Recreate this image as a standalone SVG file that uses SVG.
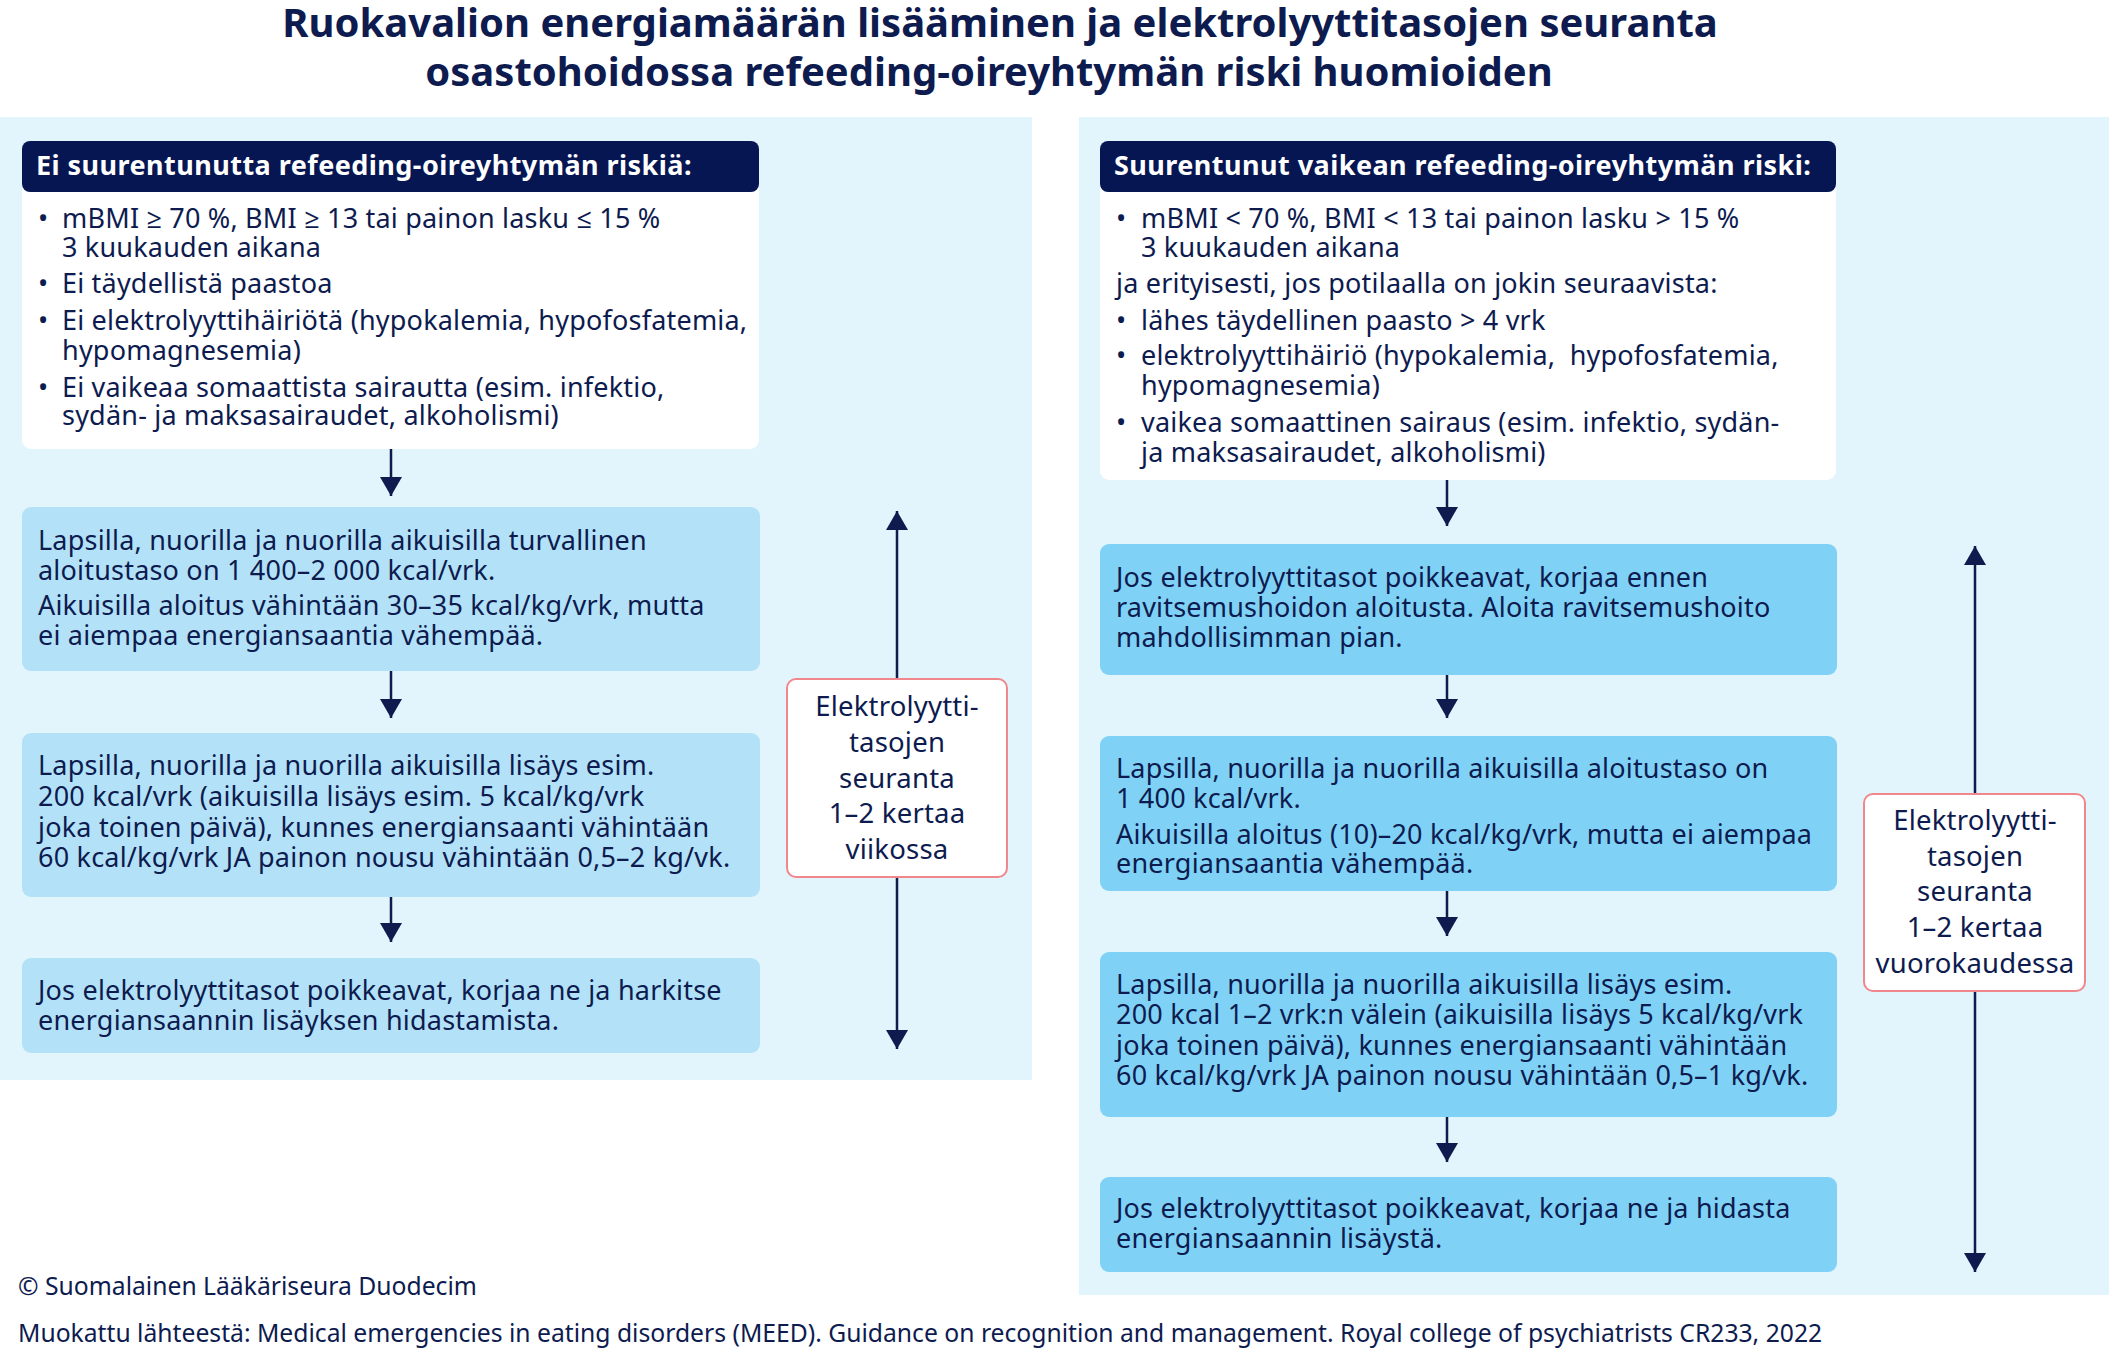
<svg xmlns="http://www.w3.org/2000/svg" width="2109" height="1351" viewBox="0 0 2109 1351">
<defs>
<style>
text{font-family:"Noto Sans","Open Sans","Liberation Sans",sans-serif;fill:#0d1b4f}
.title{font-size:40px;font-weight:bold;text-anchor:middle}
.hdr{font-size:27px;font-weight:bold;fill:#ffffff;letter-spacing:0.45px}
.body{font-size:27px;letter-spacing:0.2px}
.lbl{font-size:27.5px;text-anchor:middle;letter-spacing:0.2px}
.foot{font-size:24.7px}
.panel{fill:#e2f4fc}
.hdrbox{fill:#061652}
.white{fill:#ffffff}
.boxL{fill:#b3e2f8}
.boxR{fill:#7fd2f6}
.lblbox{fill:#ffffff;stroke:#f0878d;stroke-width:2}
.conn{stroke:#0d1b4f;stroke-width:2.5;fill:none}
</style>
<marker id="ah" viewBox="0 0 19 22" markerWidth="19" markerHeight="22" markerUnits="userSpaceOnUse" refX="19" refY="11" orient="auto-start-reverse">
<path d="M0,0 L19,11 L0,22 z" fill="#0d1b4f"/>
</marker>
</defs>
<rect width="2109" height="1351" fill="#ffffff"/>
<g id="title">
<text class="title" x="1000" y="37">Ruokavalion energiamäärän lisääminen ja elektrolyyttitasojen seuranta</text>
<text class="title" x="989" y="86">osastohoidossa refeeding-oireyhtymän riski huomioiden</text>
</g>
<g id="panels">
<rect class="panel" x="0" y="117" width="1032" height="963"/>
<rect class="panel" x="1079" y="117" width="1030" height="1178"/>
</g>
<g id="connectors">
<line class="conn" x1="391" y1="449" x2="391" y2="496" marker-end="url(#ah)"/>
<line class="conn" x1="391" y1="671" x2="391" y2="718" marker-end="url(#ah)"/>
<line class="conn" x1="391" y1="897" x2="391" y2="942" marker-end="url(#ah)"/>
<line class="conn" x1="897" y1="511" x2="897" y2="1049" marker-start="url(#ah)" marker-end="url(#ah)"/>
<line class="conn" x1="1447" y1="480" x2="1447" y2="526" marker-end="url(#ah)"/>
<line class="conn" x1="1447" y1="675" x2="1447" y2="718" marker-end="url(#ah)"/>
<line class="conn" x1="1447" y1="891" x2="1447" y2="936" marker-end="url(#ah)"/>
<line class="conn" x1="1447" y1="1117" x2="1447" y2="1162" marker-end="url(#ah)"/>
<line class="conn" x1="1975" y1="546" x2="1975" y2="1272" marker-start="url(#ah)" marker-end="url(#ah)"/>
</g>
<g id="left-criteria">
<rect class="white" x="22" y="141" width="737" height="308" rx="9"/>
<rect class="hdrbox" x="22" y="141" width="737" height="51" rx="8"/>
<text class="hdr" x="36" y="175">Ei suurentunutta refeeding-oireyhtymän riskiä:</text>
<text class="body" y="228"><tspan x="38">•</tspan><tspan x="62">mBMI ≥ 70 %, BMI ≥ 13 tai painon lasku ≤ 15 %</tspan></text>
<text class="body" x="62" y="257">3 kuukauden aikana</text>
<text class="body" y="293"><tspan x="38">•</tspan><tspan x="62">Ei täydellistä paastoa</tspan></text>
<text class="body" y="330"><tspan x="38">•</tspan><tspan x="62">Ei elektrolyyttihäiriötä (hypokalemia, hypofosfatemia,</tspan></text>
<text class="body" x="62" y="360">hypomagnesemia)</text>
<text class="body" y="397"><tspan x="38">•</tspan><tspan x="62">Ei vaikeaa somaattista sairautta (esim. infektio,</tspan></text>
<text class="body" x="62" y="425">sydän- ja maksasairaudet, alkoholismi)</text>
</g>
<g id="left-start">
<rect class="boxL" x="22" y="507" width="738" height="164" rx="9"/>
<text class="body" x="38" y="550">Lapsilla, nuorilla ja nuorilla aikuisilla turvallinen</text>
<text class="body" x="38" y="580">aloitustaso on 1 400–2 000 kcal/vrk.</text>
<text class="body" x="38" y="615">Aikuisilla aloitus vähintään 30–35 kcal/kg/vrk, mutta</text>
<text class="body" x="38" y="645">ei aiempaa energiansaantia vähempää.</text>
</g>
<g id="left-increase">
<rect class="boxL" x="22" y="733" width="738" height="164" rx="9"/>
<text class="body" x="38" y="775">Lapsilla, nuorilla ja nuorilla aikuisilla lisäys esim.</text>
<text class="body" x="38" y="806">200 kcal/vrk (aikuisilla lisäys esim. 5 kcal/kg/vrk</text>
<text class="body" x="38" y="837">joka toinen päivä), kunnes energiansaanti vähintään</text>
<text class="body" x="38" y="867">60 kcal/kg/vrk JA painon nousu vähintään 0,5–2 kg/vk.</text>
</g>
<g id="left-correct">
<rect class="boxL" x="22" y="958" width="738" height="95" rx="9"/>
<text class="body" x="38" y="1000">Jos elektrolyyttitasot poikkeavat, korjaa ne ja harkitse</text>
<text class="body" x="38" y="1030">energiansaannin lisäyksen hidastamista.</text>
</g>
<g id="left-monitoring">
<rect class="lblbox" x="787" y="679" width="220" height="198" rx="9"/>
<text class="lbl" x="897" y="716">Elektrolyytti-</text>
<text class="lbl" x="897" y="752">tasojen</text>
<text class="lbl" x="897" y="788">seuranta</text>
<text class="lbl" x="897" y="823">1–2 kertaa</text>
<text class="lbl" x="897" y="859">viikossa</text>
</g>
<g id="right-criteria">
<rect class="white" x="1100" y="141" width="736" height="339" rx="9"/>
<rect class="hdrbox" x="1100" y="141" width="736" height="51" rx="8"/>
<text class="hdr" x="1114" y="175">Suurentunut vaikean refeeding-oireyhtymän riski:</text>
<text class="body" y="228"><tspan x="1116">•</tspan><tspan x="1141">mBMI &lt; 70 %, BMI &lt; 13 tai painon lasku &gt; 15 %</tspan></text>
<text class="body" x="1141" y="257">3 kuukauden aikana</text>
<text class="body" x="1116" y="293">ja erityisesti, jos potilaalla on jokin seuraavista:</text>
<text class="body" y="330"><tspan x="1116">•</tspan><tspan x="1141">lähes täydellinen paasto &gt; 4 vrk</tspan></text>
<text class="body" y="365" xml:space="preserve"><tspan x="1116">•</tspan><tspan x="1141">elektrolyyttihäiriö (hypokalemia,  hypofosfatemia,</tspan></text>
<text class="body" x="1141" y="395">hypomagnesemia)</text>
<text class="body" y="432"><tspan x="1116">•</tspan><tspan x="1141">vaikea somaattinen sairaus (esim. infektio, sydän-</tspan></text>
<text class="body" x="1141" y="462">ja maksasairaudet, alkoholismi)</text>
</g>
<g id="right-correct-first">
<rect class="boxR" x="1100" y="544" width="737" height="131" rx="9"/>
<text class="body" x="1116" y="587">Jos elektrolyyttitasot poikkeavat, korjaa ennen</text>
<text class="body" x="1116" y="617">ravitsemushoidon aloitusta. Aloita ravitsemushoito</text>
<text class="body" x="1116" y="647">mahdollisimman pian.</text>
</g>
<g id="right-start">
<rect class="boxR" x="1100" y="736" width="737" height="155" rx="9"/>
<text class="body" x="1116" y="778">Lapsilla, nuorilla ja nuorilla aikuisilla aloitustaso on</text>
<text class="body" x="1116" y="808">1 400 kcal/vrk.</text>
<text class="body" x="1116" y="844">Aikuisilla aloitus (10)–20 kcal/kg/vrk, mutta ei aiempaa</text>
<text class="body" x="1116" y="873">energiansaantia vähempää.</text>
</g>
<g id="right-increase">
<rect class="boxR" x="1100" y="952" width="737" height="165" rx="9"/>
<text class="body" x="1116" y="994">Lapsilla, nuorilla ja nuorilla aikuisilla lisäys esim.</text>
<text class="body" x="1116" y="1024">200 kcal 1–2 vrk:n välein (aikuisilla lisäys 5 kcal/kg/vrk</text>
<text class="body" x="1116" y="1055">joka toinen päivä), kunnes energiansaanti vähintään</text>
<text class="body" x="1116" y="1085">60 kcal/kg/vrk JA painon nousu vähintään 0,5–1 kg/vk.</text>
</g>
<g id="right-correct">
<rect class="boxR" x="1100" y="1177" width="737" height="95" rx="9"/>
<text class="body" x="1116" y="1218">Jos elektrolyyttitasot poikkeavat, korjaa ne ja hidasta</text>
<text class="body" x="1116" y="1248">energiansaannin lisäystä.</text>
</g>
<g id="right-monitoring">
<rect class="lblbox" x="1864" y="794" width="221" height="197" rx="9"/>
<text class="lbl" x="1975" y="830">Elektrolyytti-</text>
<text class="lbl" x="1975" y="866">tasojen</text>
<text class="lbl" x="1975" y="901">seuranta</text>
<text class="lbl" x="1975" y="937">1–2 kertaa</text>
<text class="lbl" x="1975" y="973">vuorokaudessa</text>
</g>
<g id="footer">
<text class="foot" x="18" y="1295">© Suomalainen Lääkäriseura Duodecim</text>
<text class="foot" x="18" y="1342">Muokattu lähteestä: Medical emergencies in eating disorders (MEED). Guidance on recognition and management. Royal college of psychiatrists CR233, 2022</text>
</g>
</svg>
